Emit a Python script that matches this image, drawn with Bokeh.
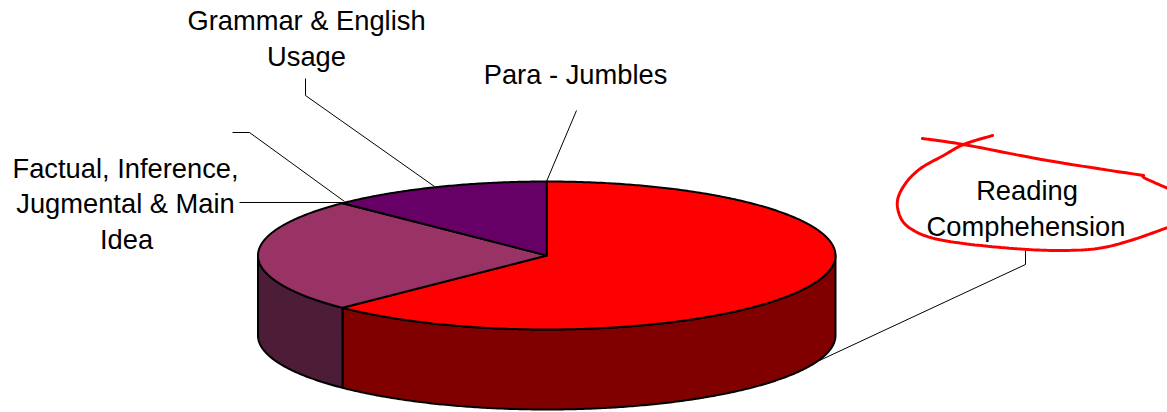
import numpy as np
from bokeh.plotting import figure
from bokeh.models import Range1d
from bokeh.core.properties import value
from bokeh.embed import file_html
from bokeh.resources import INLINE

# --- data (clockwise from 12 o'clock) ---
slice_names = ["Reading Comphehension", "Factual, Inference, Jugmental & Main Idea", "Grammar & English Usage"]
slice_shares = [62.5, 25.0, 12.5]

label_lines = ["Grammar & English", "Usage", "Para - Jumbles",
               "Factual, Inference,", "Jugmental & Main", "Idea",
               "Reading", "Comphehension"]

# --- styles and layout ---
top_colors = ["#FF0000", "#993366", "#660066"]
side_colors = ["#800000", "#4D1C36", "#330033"]
label_x = [306, 306, 575, 125, 125, 126, 1026.5, 1025.5]
label_y = [20, 56, 73.5, 168, 203, 238.5, 189.5, 225.5]
CX, CY, RX, RY, DEPTH = 546.25, 255.0, 288.75, 74.0, 80.0


def arc(a0, a1, cy):
    t = np.radians(np.linspace(a0, a1, max(int(abs(a1 - a0) * 2), 2)))
    return CX + RX * np.sin(t), cy - RY * np.cos(t)


def smooth(pts, n=12):
    """Catmull-Rom curve through a hand-drawn stroke's points."""
    P = np.array([pts[0]] + pts + [pts[-1]], dtype=float)
    out = []
    for i in range(1, len(P) - 2):
        for u in np.linspace(0, 1, n, endpoint=False):
            out.append(0.5 * (2 * P[i] + (P[i + 1] - P[i - 1]) * u
                              + (2 * P[i - 1] - 5 * P[i] + 4 * P[i + 1] - P[i + 2]) * u ** 2
                              + (3 * P[i] - P[i - 1] - 3 * P[i + 1] + P[i + 2]) * u ** 3))
    out.append(P[-2])
    return np.array(out)


p = figure(width=1167, height=412, output_backend="svg", toolbar_location=None,
           x_range=Range1d(0, 1167), y_range=Range1d(412, 0),
           min_border=0, outline_line_color=None, background_fill_color="white",
           border_fill_color="white")
p.axis.visible = False
p.grid.visible = False

# leader lines
leaders = [
    ([305, 305, 434], [78, 95, 186]),
    ([576, 546], [110, 181]),
    ([232, 249, 344], [132, 132, 201]),
    ([239, 344], [202, 202]),
    ([1025, 1025, 819], [250, 264, 360]),
]
p.multi_line([l[0] for l in leaders], [l[1] for l in leaders], line_color="black", line_width=1)

# slices
edges = np.concatenate([[0], np.cumsum(slice_shares)]) / sum(slice_shares) * 360.0

# walls: only the front half of the disc (90..270 degrees) is visible
for i in range(len(slice_shares)):
    a0, a1 = max(edges[i], 90.0), min(edges[i + 1], 270.0)
    if a1 <= a0:
        continue
    xt, yt = arc(a0, a1, CY)
    xb, yb = arc(a1, a0, CY + DEPTH)
    p.patch(np.r_[xt, xb], np.r_[yt, yb], fill_color=side_colors[i],
            line_color="black", line_width=2, line_join="round")

# top faces
for i in range(len(slice_shares)):
    xt, yt = arc(edges[i], edges[i + 1], CY)
    p.patch(np.r_[CX, xt], np.r_[CY, yt], fill_color=top_colors[i],
            line_color="black", line_width=2, line_join="round")

# labels
p.text(label_x, label_y, text=label_lines, text_font=value("Liberation Sans"),
       text_font_size="27.3px", text_align="center", text_baseline="alphabetic",
       text_color="#000000")

# red hand-drawn ink
loop = [(992, 135), (963, 144), (943, 155), (920, 168), (905, 183), (897, 200), (900, 217),
        (910, 228), (930, 237), (963, 243), (1013, 248), (1057, 250), (1097, 248), (1130, 240), (1170, 226)]
slash = [(922, 138), (963, 144), (1047, 160), (1143, 175)]
tail = [(1143, 175), (1145, 178), (1170, 189)]
for stroke in (loop, slash, tail):
    c = smooth(stroke)
    p.line(c[:, 0], c[:, 1], line_color="#FF0000", line_width=3, line_cap="round")

open("out.html", "w").write(file_html(p, INLINE))
